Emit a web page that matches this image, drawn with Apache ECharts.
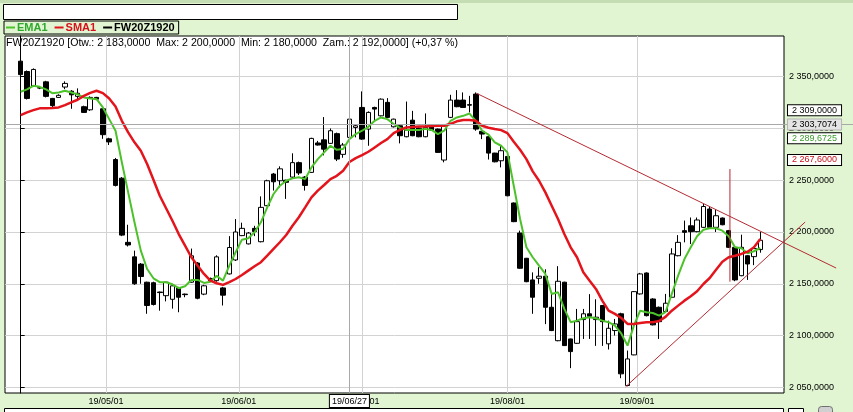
<!DOCTYPE html>
<html><head><meta charset="utf-8">
<script src="https://cdn.jsdelivr.net/npm/echarts@6/dist/echarts.min.js"></script>
<style>html,body{margin:0;padding:0;background:#E1F5D2;overflow:hidden}#c{width:853px;height:412px}</style>
</head><body><div id="c"></div>
<script>
const dates = [
'19/04/09','19/04/10','19/04/11','19/04/12','19/04/15','19/04/16','19/04/17','19/04/18','19/04/23','19/04/24','19/04/25','19/04/26','19/04/29','19/04/30',
'19/05/02','19/05/06','19/05/07','19/05/08','19/05/09','19/05/10','19/05/13','19/05/14','19/05/15','19/05/16','19/05/17','19/05/20','19/05/21','19/05/22','19/05/23','19/05/24','19/05/27','19/05/28','19/05/29','19/05/30','19/05/31',
'19/06/03','19/06/04','19/06/05','19/06/06','19/06/07','19/06/10','19/06/11','19/06/12','19/06/13','19/06/14','19/06/17','19/06/18','19/06/19','19/06/21','19/06/24','19/06/25','19/06/26','19/06/27','19/06/28',
'19/07/01','19/07/02','19/07/03','19/07/04','19/07/05','19/07/08','19/07/09','19/07/10','19/07/11','19/07/12','19/07/15','19/07/16','19/07/17','19/07/18','19/07/19','19/07/22','19/07/23','19/07/24','19/07/25','19/07/26','19/07/29','19/07/30','19/07/31',
'19/08/01','19/08/02','19/08/05','19/08/06','19/08/07','19/08/08','19/08/09','19/08/12','19/08/13','19/08/14','19/08/16','19/08/19','19/08/20','19/08/21','19/08/22','19/08/23','19/08/26','19/08/27','19/08/28','19/08/29','19/08/30',
'19/09/02','19/09/03','19/09/04','19/09/05','19/09/06','19/09/09','19/09/10','19/09/11','19/09/12','19/09/13','19/09/16','19/09/17','19/09/18','19/09/19','19/09/20','19/09/23','19/09/24','19/09/25','19/09/26','19/09/27'
];
const open = [
2365,2355,2341,2339,2345,2329,2330,2340,2336,2331,
2321,2318,2330,2319,2290,2270,2252,2190,2176,2169,
2151.5,2151,2142,2138.5,2135,2146,2140,2151.5,2170,2140,
2155,2153,2146,2159.5,2173,2196.5,2188.5,2203.5,2190.6,2225.4,
2256,2249.5,2250,2253,2267,2253,2257.6,2286,2289,2285.6,
2295,2275,2291.4,2301,2320.3,2299.4,2320.3,2312.2,2325.2,2301.6,
2302.6,2292,2308,2300.4,2292,2303.5,2299.4,2269.5,2310.7,2327.4,
2327.4,2323,2333.2,2297.2,2292,2276.2,2268.8,2273,2228,2199,
2174.6,2153.7,2155.3,2157.3,2127.3,2095,2151.5,2096.7,2092.5,2115.4,
2121,2115.4,2129,2092,2104.8,2121,2051.7,2081.3,2140.2,2160.4,
2135.3,2127.3,2123.2,2137,2177.1,2201.3,2206,2200.3,2204.5,2222.2,
2204.5,2213.5,2201.3,2185.2,2157.8,2177.1,2176.2,2183
];
const close = [
2352,2329,2357,2339.4,2331,2322,2332,2343.5,2332.5,2334,
2315.5,2330,2328.3,2294,2287,2245,2197,2187.5,2150,2157,
2129,2130,2141.5,2151.5,2148,2137,2139.5,2177,2136,2148,
2153,2176,2139,2185,2200,2203.5,2199,2200.5,2223.8,2249.5,
2248.5,2261,2248,2267,2257,2245,2290.4,2284,2280,2297.8,
2270.4,2284,2309,2302.6,2289.7,2315.5,2318.7,2328.3,2310.7,2309,
2293,2298.4,2293,2292,2301,2298.4,2276.9,2302.6,2327.4,2321,
2320.3,2322.5,2299.4,2294.6,2276.2,2267.8,2278.5,2235,2210,2165,
2152,2137,2157.3,2127.3,2104.8,2152.4,2090.3,2084.5,2113.4,2121,
2118.6,2117.7,2113.4,2107,2111.2,2063,2077.4,2142.4,2159.5,2119.2,
2110.3,2113.4,2131.2,2178.8,2190,2199.7,2200.3,2211.6,2224.6,2204.5,
2215.7,2207,2185.2,2153.7,2185.2,2169.1,2184,2192
];
const low = [
2350,2328,2340,2338,2330,2319,2329.5,2338,2319,2328,
2315,2317,2328,2290,2284,2244,2196,2186,2149,2150,
2121,2129,2124,2133,2126,2122.5,2137,2151,2135,2139,
2152,2152,2129,2159,2172,2196,2188,2196,2190,2225,
2240,2243,2232,2252,2255,2240,2257,2283.5,2274,2285,
2268.5,2271.7,2289,2291.4,2289,2283.3,2308,2311.5,2310,2301,
2285.6,2291.5,2292.5,2291.5,2291.5,2298,2276.5,2267.3,2310,2320.5,
2320,2315.5,2297.8,2289.7,2270,2267.3,2262.4,2234.5,2209.5,2164.5,
2151.5,2121,2150,2111,2104.3,2094.5,2090,2068.5,2092,2096.7,
2096.7,2090,2090,2086.5,2100,2058.8,2051,2081,2139.5,2118.5,
2109.8,2096.7,2122.5,2136.5,2176.5,2190,2188.4,2199.7,2204,2204,
2200,2206.5,2184.5,2152.5,2157.3,2153.7,2168,2180
];
const high = [
2381,2356,2358,2340,2346,2329.5,2333,2345.5,2337,2338.7,
2322,2331,2330.5,2320,2291,2271.5,2253,2207,2182,2170,
2152,2152,2142.5,2152,2149,2147,2140.5,2184,2171,2149,
2156,2177.5,2147,2196,2212.5,2209,2200,2206,2234.4,2250.5,
2257,2263.4,2250.5,2276,2268,2254,2291,2288,2311,2300,
2296,2286,2311,2303.5,2335.8,2316.5,2321,2329,2329.3,2309.5,
2303,2326,2317,2301,2314.5,2304,2300,2303,2332.5,2337,
2334.8,2331.5,2334.8,2297.8,2292.5,2276.5,2283.3,2273.5,2228.5,2201.3,
2175,2161,2166,2164,2140.8,2167,2152,2097,2125.7,2125.7,
2140,2135,2129.5,2114.4,2116,2122,2085.5,2143,2160.5,2161,
2136,2128,2140.2,2184.3,2197,2211,2214,2214,2227,2225,
2222,2214,2202,2186,2197.4,2177.6,2185.7,2200
];
const ema1 = [
2335.4,2337.7,2341.2,2340.2,2337.7,2334.1,2334.8,2336.4,2334.8,2332.9,
2330,2329,2328.3,2320.3,2309,2297.8,2267.3,2238.3,2209.4,2182,
2164.3,2155.3,2151.5,2151.5,2149.5,2145.7,2147.6,2153.7,2153.7,2150.8,
2152,2157.8,2153,2167.5,2180.4,2192.6,2193.9,2199.7,2209.4,2223.8,
2236.7,2244.7,2249.5,2251.8,2252.8,2251.1,2262.4,2270.4,2276.9,2283.3,
2279.4,2280.1,2289.6725,2294.6,2297.8,2301.6,2307.4,2310.6,2309,2304.3,
2300.5,2298.6,2298.6,2298.6,2299.6,2298.6,2294.5,2297.8,2307.4,2310.6,
2312.2,2314.4,2307.4,2297.8,2294,2286.6,2283.3,2276.9,2244.7,2212.5,
2185.2,2175.6,2167.5,2159.5,2140.2,2141.8,2125.7,2112.9,2114.4,2116.7,
2117.7,2116.7,2114.4,2112.9,2109.6,2102,2090.3,2109.6,2124,2122.5,
2121.8,2119.2,2122.5,2140.2,2157.8,2173.9,2185.2,2195.9,2202.2,2203.6,
2203.6,2201.3,2196,2185.2,2184.3,2179.4,2181.4,2184.6
];
const sma1 = [
2312.9,2315.5,2317.7,2319.4,2319.4,2319.7,2320.3,2322.6,2325.2,2327.7,
2331.5,2334.4,2336.4,2334.1,2329,2321.3,2307.4,2296.2,2286.6,2278.5,
2265.6,2250.5,2235,2222.9,2210.9,2198,2186.8,2175.6,2167.5,2159.5,
2153,2150.5,2148.9,2151.5,2154.6,2158.5,2162.7,2166.9,2170.8,2177.1,
2183.6,2190.1,2197.1,2206.1,2214.2,2223.8,2233.5,2239.9,2245.4,2251.1,
2254.3,2259.2,2267.6,2271.4,2274.3,2277.5,2281.7,2285.9,2289.7,2295.5,
2298.7,2301,2301.5,2302,2302,2302.3,2302.5,2302.6,2304.5,2306.9,
2308.2,2308.2,2307.5,2302.6,2300.7,2299.4,2298.4,2295.5,2287.1,2279.4,
2270.4,2258.6,2249.5,2238.3,2225.4,2212.5,2198.1,2185.2,2175.6,2161.1,
2153,2145,2133.7,2124,2120.9,2117,2111.2,2111.2,2112.2,2112.9,
2112.9,2114.1,2118,2124,2128.9,2133.7,2138,2142.8,2149.8,2155.6,
2163.6,2171.3,2175.6,2177.1,2178.8,2181,2185.2,2193.2
];
const monthPos = [13.5, 34.5, 54, 77, 97.5];
const monthLabels = ['19/05/01','19/06/01','19/07/01','19/08/01','19/09/01'];
const yTicks = [2050,2100,2150,2200,2250,2300,2350];
const resistanceLine = [[72.1, 2334], [129, 2165.2]];
const supportLine = [[95.7, 2050.5], [124.1, 2209.6]];
const markerLine = [[112.2, 2260.8], [112.2, 2152]];
const cursorIndex = 52;
const cursorPrice = 2303.7074;

function fmt(v){
  const p = v.toFixed(4).split('.');
  return p[0].replace(/\B(?=(\d{3})+(?!\d))/g,' ') + ',' + p[1];
}
const last = dates.length - 1;
const pct = (close[last] / close[last-1] - 1) * 100;
const infoText = 'FW20Z1920 [Otw.: ' + fmt(open[last]) + '  Max: ' + fmt(high[last]) + '  Min: ' + fmt(low[last]) +
  '  Zam.: ' + fmt(close[last]) + '] (' + (pct >= 0 ? '+' : '') + pct.toFixed(2).replace('.', ',') + ' %)';

const FONT = 'Liberation Sans, Arial, sans-serif';
const GREEN = '#4CC22A', RED = '#E3141C', TREND = '#B42A32';
const X_MIN = -2.484, X_MAX = 120.75, X_MAX_WIDE = 131.67, Y_MIN = 2044.5, Y_MAX = 2389.3;
const candles = dates.map((d,i)=>[i, open[i], close[i], low[i], high[i]]);
const emaData = ema1.map((v,i)=>[i,v]);
const smaData = sma1.map((v,i)=>[i,v]);

function boxLabel(text, color, bg, border, offset){
  return {show:true, position:'end', formatter:text, color:color, backgroundColor:bg, borderColor:border, borderWidth:1,
    padding:[1,4,0,4], fontSize:9, fontFamily:FONT, offset:offset||[0,0], distance:4};
}
const hidden = {color:'rgba(0,0,0,0)', width:1, type:'solid'};

const chart = echarts.init(document.getElementById('c'), null, {renderer:'canvas'});
chart.setOption({
  animation:false,
  backgroundColor:'#E1F5D2',
  textStyle:{fontFamily:FONT},
  title:{text:infoText, left:6, top:38, padding:0, textStyle:{fontSize:10.6, fontWeight:'normal', color:'#000', fontFamily:FONT}},
  legend:{
    left:4, top:21, orient:'horizontal', itemGap:7, itemWidth:9, itemHeight:2, icon:'rect',
    padding:[1,4,1,2], borderColor:'#000', borderWidth:1, backgroundColor:'#E1F5D2',
    textStyle:{fontSize:11, fontWeight:'bold', fontFamily:FONT, padding:[0,0,0,-3]},
    selectedMode:false,
    data:[
      {name:'EMA1', itemStyle:{color:GREEN, borderWidth:0}, textStyle:{color:'#2FA82F'}},
      {name:'SMA1', itemStyle:{color:RED, borderWidth:0}, textStyle:{color:'#D8101A'}},
      {name:'FW20Z1920', itemStyle:{color:'#000', borderWidth:0}, textStyle:{color:'#000'}}
    ]
  },
  grid:[
    {left:5, right:69, top:36, bottom:19, show:true, borderColor:'#000', borderWidth:1, backgroundColor:'#fff'},
    {left:5, right:0, top:36, bottom:19, show:false}
  ],
  xAxis:[{
    type:'value', min:X_MIN, max:X_MAX,
    axisLine:{show:false},
    axisTick:{show:false, customValues:monthPos},
    axisLabel:{customValues:monthPos, formatter:(v)=>monthLabels[monthPos.indexOf(v)] || '', fontSize:9, color:'#000', margin:4, fontFamily:FONT},
    splitLine:{show:true, lineStyle:{color:'#D2D2D2', width:1}}
  },{
    type:'value', gridIndex:1, min:X_MIN, max:X_MAX_WIDE, show:false
  }],
  yAxis:[{
    type:'value', position:'right', min:Y_MIN, max:Y_MAX,
    axisLine:{show:true, lineStyle:{color:'#000'}},
    axisTick:{show:true, length:4, customValues:yTicks, lineStyle:{color:'#000'}},
    axisLabel:{customValues:yTicks, formatter:(v)=>fmt(v), fontSize:9, color:'#000', margin:5, fontFamily:FONT},
    splitLine:{show:true, lineStyle:{color:'#D2D2D2', width:1}}
  },{
    type:'value', gridIndex:1, min:Y_MIN, max:Y_MAX, show:false
  }],
  series:[
    {
      name:'FW20Z1920', type:'candlestick', data:candles, barWidth:5, z:3,
      encode:{x:0, y:[1,2,3,4]},
      itemStyle:{color:'#fff', color0:'#000', borderColor:'#000', borderColor0:'#000', borderWidth:1},
      markLine:{
        silent:true, symbol:['none','none'], animation:false,
        data:[
          {xAxis:cursorIndex, lineStyle:{color:'#A8A8A8', width:1, type:'solid'},
            label:{show:true, position:'start', formatter:dates[cursorIndex], color:'#000', backgroundColor:'#fff',
              borderColor:'#000', borderWidth:1, padding:[2,2,1,2], fontSize:9, fontFamily:FONT, distance:2}},
          {yAxis:cursorPrice, lineStyle:hidden,
            label:boxLabel(fmt(cursorPrice), '#000', '#E4E4E4', '#B4B4B4')},
          {yAxis:close[cursorIndex], lineStyle:hidden,
            label:boxLabel(fmt(close[cursorIndex]), '#000', '#fff', '#000', [0,-9])}
        ]
      }
    },
    {
      name:'EMA1', type:'line', data:emaData, showSymbol:false, symbol:'none', smooth:false, z:4,
      lineStyle:{color:GREEN, width:2}, itemStyle:{color:GREEN},
      markLine:{silent:true, symbol:['none','none'], animation:false,
        data:[{yAxis:ema1[cursorIndex], lineStyle:hidden, label:boxLabel(fmt(ema1[cursorIndex]), '#3A9A2A', '#fff', '#000', [0,-1])}]}
    },
    {
      name:'SMA1', type:'line', data:smaData, showSymbol:false, symbol:'none', smooth:false, z:4,
      lineStyle:{color:RED, width:2.5}, itemStyle:{color:RED},
      markLine:{silent:true, symbol:['none','none'], animation:false,
        data:[{yAxis:sma1[cursorIndex], lineStyle:hidden, label:boxLabel(fmt(sma1[cursorIndex]), '#C8101A', '#fff', '#000', [0,-2])}]}
    },
    {name:'resistance', type:'line', xAxisIndex:1, yAxisIndex:1, data:resistanceLine, showSymbol:false, symbol:'none', clip:false, z:5,
      lineStyle:{color:TREND, width:1}, silent:true,
      markLine:{silent:true, symbol:['none','none'], animation:false, label:{show:false},
        data:[{yAxis:cursorPrice, lineStyle:{color:'#A8A8A8', width:1, type:'solid'}}]}},
    {name:'support', type:'line', xAxisIndex:1, yAxisIndex:1, data:supportLine, showSymbol:false, symbol:'none', clip:false, z:5,
      lineStyle:{color:TREND, width:1}, silent:true},
    {name:'marker', type:'line', xAxisIndex:1, yAxisIndex:1, data:markerLine, showSymbol:false, symbol:'none', clip:false, z:5,
      lineStyle:{color:TREND, width:1}, silent:true}
  ],
  graphic:[
    {type:'rect', left:0, top:0, shape:{width:853, height:3}, style:{fill:'#C4DDB2'}, silent:true},
    {type:'rect', left:3, top:4, shape:{width:454, height:15}, style:{fill:'#fff', stroke:'#000', lineWidth:1}, silent:true},
    {type:'rect', left:4, top:408, shape:{width:779, height:10}, style:{fill:'#fff', stroke:'#000', lineWidth:1}, silent:true},
    {type:'rect', left:788, top:408, shape:{width:15, height:10}, style:{fill:'#fff', stroke:'#000', lineWidth:1}, silent:true},
    {type:'rect', left:818, top:406, shape:{width:14, height:10, r:3}, style:{fill:'#D0D0D0', stroke:'#707070', lineWidth:1}, silent:true}
  ]
});
</script></body></html>
